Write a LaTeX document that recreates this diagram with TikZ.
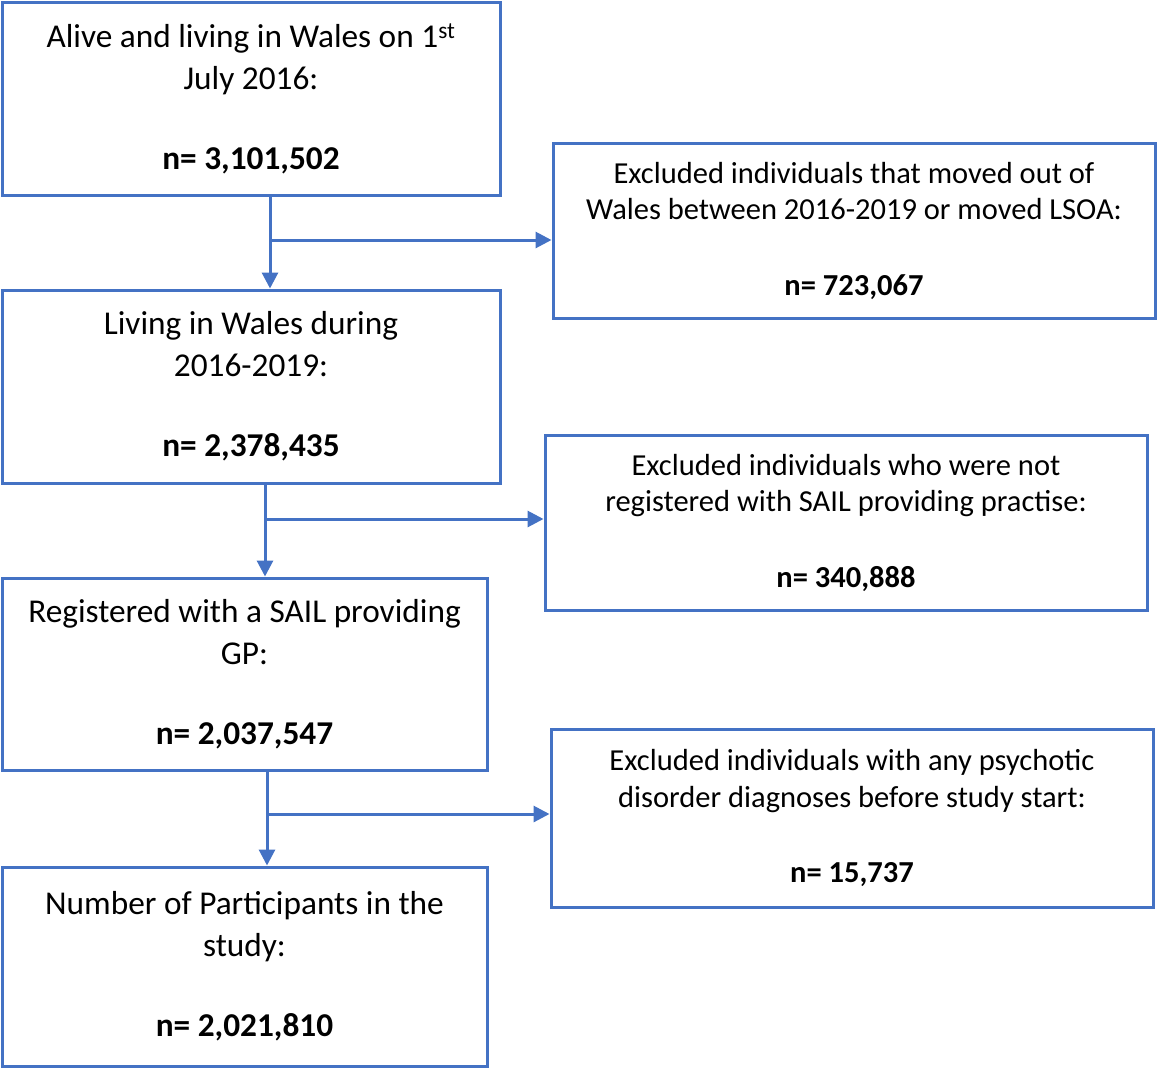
\documentclass[tikz,border=0pt]{standalone}
\usepackage{fontspec}
\setmainfont{Carlito}
\usetikzlibrary{arrows.meta}
\definecolor{flowblue}{HTML}{4472C4}

\begin{document}
\begin{tikzpicture}[x=1pt, y=-1pt,
  every node/.style={rectangle, draw=flowblue, line width=3pt, align=center, inner sep=0pt},
  kept/.style={font=\fontsize{33.3}{42}\selectfont},
  excl/.style={font=\fontsize{30.5}{36.5}\selectfont, minimum width=602pt, minimum height=175pt},
  flow/.style={draw=flowblue, line width=3pt, -{Triangle[length=16pt, width=16pt]}}]
  \fill [white] (0, 0) rectangle (1157, 1069);
  \node [kept, minimum width=498pt, minimum height=193pt] (0) at (251, 98.5) {Alive and living in Wales on 1\textsuperscript{st}\\July 2016:\\[38pt]\textbf{n= 3,101,502}};
  \node [kept, minimum width=498pt, minimum height=193pt] (1) at (251, 386.5) {Living in Wales during\\2016-2019:\\[38pt]\textbf{n= 2,378,435}};
  \node [kept, minimum width=485pt, minimum height=192pt] (2) at (244.5, 674) {Registered with a SAIL providing\\GP:\\[38pt]\textbf{n= 2,037,547}};
  \node [kept, minimum width=485pt, minimum height=199pt] (3) at (244.5, 966.5) {Number of Participants in the\\study:\\[38pt]\textbf{n= 2,021,810}};
  \node [excl] (4) at (854, 230.5) {Excluded individuals that moved out of\\Wales between 2016-2019 or moved LSOA:\\[39pt]\textbf{n= 723,067}};
  \node [excl] (5) at (846, 522.5) {Excluded individuals who were not\\registered with SAIL providing practise:\\[39pt]\textbf{n= 340,888}};
  \node [excl, minimum height=178pt] (6) at (852, 818) {Excluded individuals with any psychotic\\disorder diagnoses before study start:\\[39pt]\textbf{n= 15,737}};
  \coordinate (s0) at (270, 240);
  \coordinate (s1) at (265, 519);
  \coordinate (s2) at (267, 814);
  \draw [flow] (0.south -| s0) -- (1.north -| s0);
  \draw [flow] (s0) -- (s0 -| 4.west);
  \draw [flow] (1.south -| s1) -- (2.north -| s1);
  \draw [flow] (s1) -- (s1 -| 5.west);
  \draw [flow] (2.south -| s2) -- (3.north -| s2);
  \draw [flow] (s2) -- (s2 -| 6.west);
\end{tikzpicture}
\end{document}
